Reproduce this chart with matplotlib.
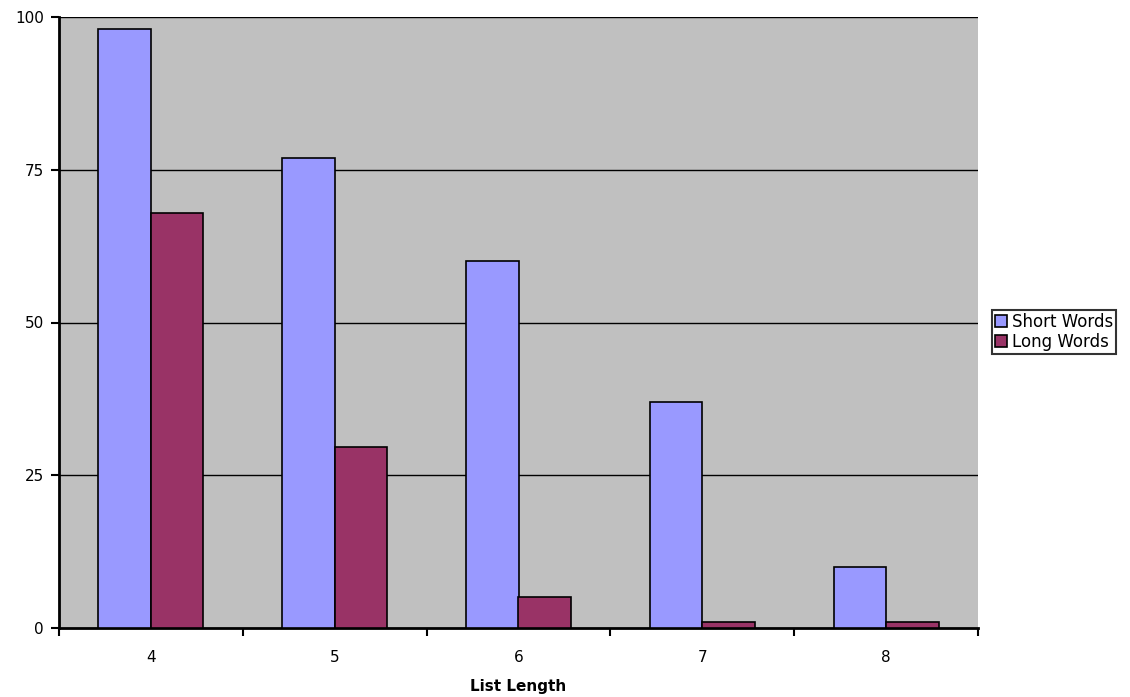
import numpy as np
import matplotlib.pyplot as plt

# List length recall data
list_lengths = ['4', '5', '6', '7', '8']
short_words = [98, 77, 60, 37, 10]
long_words = [68, 29.6, 5, 1, 1]

fig = plt.figure(figsize=(11.3, 6.97), dpi=100)
ax = fig.add_axes([59/1130, 1 - 628/697, (978 - 59)/1130, (628 - 17)/697])
ax.set_facecolor('#c0c0c0')

x = np.arange(len(list_lengths))
w = 0.286
ax.bar(x - w/2, short_words, w, color='#9999ff', edgecolor='black', lw=1.2,
       label='Short Words', zorder=3)
ax.bar(x + w/2, long_words, w, color='#993366', edgecolor='black', lw=1.2,
       label='Long Words', zorder=3)

ax.set_xlim(-0.5, len(list_lengths) - 0.5)
ax.set_ylim(0, 100)
ax.set_yticks([0, 25, 50, 75, 100])
ax.set_yticklabels(['0', '25', '50', '75', '100'], fontsize=11)
for yv in [25, 50, 75, 100]:
    ax.axhline(yv, color='black', lw=1, zorder=1)

# group boundaries get the tick marks, group centres get the labels
ax.set_xticks(np.arange(-0.5, len(list_lengths)), minor=False)
ax.set_xticklabels([])
ax.set_xticks(x, minor=True)
ax.set_xticklabels(list_lengths, minor=True, fontsize=11)
ax.tick_params(axis='x', which='minor', length=0, pad=16)
ax.tick_params(axis='x', which='major', length=6, width=1.5, direction='out')
ax.tick_params(axis='y', length=6, width=1.5, direction='out', pad=5)

for s in ['top', 'right']:
    ax.spines[s].set_visible(False)
for s in ['left', 'bottom']:
    ax.spines[s].set_linewidth(2)

ax.set_xlabel('List Length', fontsize=11, fontweight='bold', labelpad=10)

leg = fig.legend(loc='upper left', bbox_to_anchor=(992/1130, 1 - 310/697),
                 frameon=True, fancybox=False, edgecolor='black', fontsize=12,
                 handlelength=0.75, handleheight=0.75, handletextpad=0.3,
                 borderpad=0.15, labelspacing=0.15, borderaxespad=0)
leg.get_frame().set_linewidth(1.5)

fig.savefig('out.png', dpi=100, facecolor='white')
